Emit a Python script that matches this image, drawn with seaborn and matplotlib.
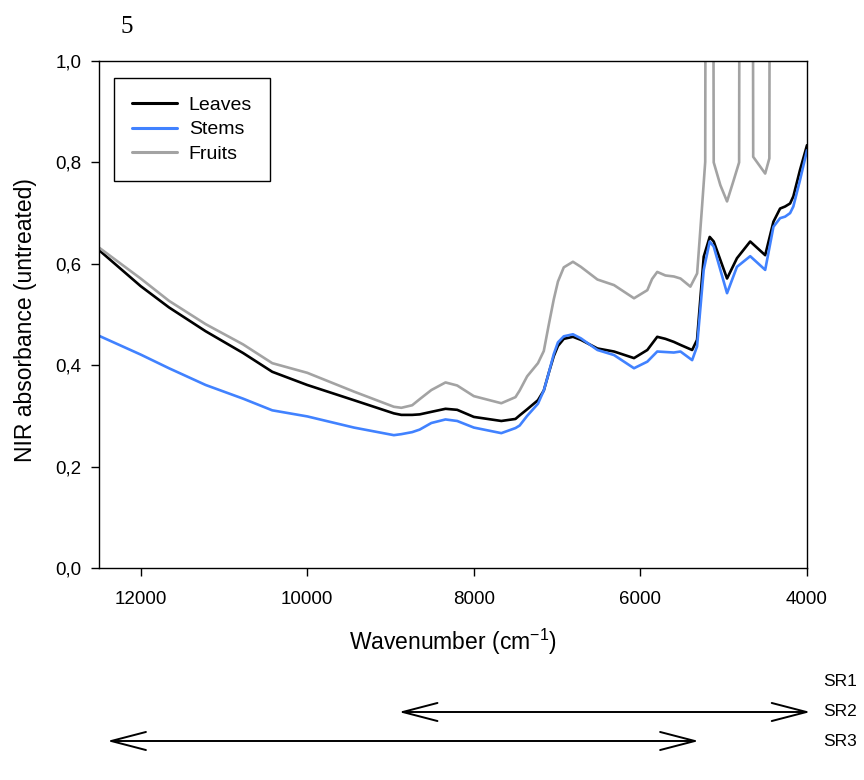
import numpy as np
import pandas as pd
import matplotlib
matplotlib.use("Agg")
import matplotlib.pyplot as plt
import seaborn as sns

# ---------------- data ----------------
wavenumber = [12500, 12000, 11660, 11220, 10770, 10420, 10000, 9440, 8960, 8870,
              8740, 8650, 8510, 8340, 8200, 8000, 7670, 7500, 7450, 7360,
              7230, 7160, 7100, 7040, 6990, 6920, 6810, 6715, 6516, 6317,
              6077, 5917, 5798, 5700, 5599, 5519, 5379, 5320, 5240, 5168,
              5120, 4960, 4841, 4682, 4502, 4403, 4323, 4263, 4203, 4164,
              4084, 4000]
leaves = [0.627, 0.556, 0.514, 0.467, 0.424, 0.387, 0.361, 0.331, 0.305, 0.302,
          0.302, 0.303, 0.308, 0.314, 0.312, 0.298, 0.290, 0.294, 0.301, 0.313,
          0.331, 0.350, 0.385, 0.418, 0.438, 0.452, 0.456, 0.450, 0.433, 0.427,
          0.414, 0.430, 0.456, 0.452, 0.446, 0.440, 0.430, 0.450, 0.614, 0.653,
          0.644, 0.571, 0.611, 0.644, 0.617, 0.683, 0.709, 0.713, 0.719, 0.733,
          0.785, 0.834]
stems = [0.458, 0.421, 0.394, 0.361, 0.334, 0.311, 0.299, 0.277, 0.262, 0.264,
         0.268, 0.273, 0.286, 0.293, 0.290, 0.277, 0.266, 0.276, 0.281, 0.300,
         0.324, 0.350, 0.385, 0.422, 0.445, 0.457, 0.461, 0.453, 0.430, 0.420,
         0.394, 0.407, 0.427, 0.426, 0.425, 0.427, 0.410, 0.437, 0.588, 0.644,
         0.634, 0.542, 0.594, 0.615, 0.588, 0.673, 0.690, 0.693, 0.700, 0.713,
         0.765, 0.824]
wavenumber_fruits = [12500, 12000, 11660, 11220, 10770, 10420, 10000, 9440, 8960, 8870,
                     8740, 8650, 8510, 8340, 8200, 8000, 7670, 7500, 7450, 7360,
                     7230, 7160, 7100, 7040, 6990, 6920, 6810, 6715, 6516, 6317,
                     6077, 5917, 5860, 5798, 5700, 5599, 5519, 5400, 5319, 5260,
                     5222, 5215, 5128, 5120, 5040, 4960, 4880, 4815, 4808, 4652,
                     4646, 4502, 4452, 4445, 4000]
fruits = [0.632, 0.571, 0.527, 0.481, 0.441, 0.404, 0.385, 0.348, 0.318, 0.316,
          0.321, 0.333, 0.351, 0.366, 0.360, 0.339, 0.325, 0.337, 0.350, 0.378,
          0.404, 0.428, 0.480, 0.530, 0.565, 0.593, 0.604, 0.594, 0.569, 0.558,
          0.532, 0.548, 0.570, 0.584, 0.577, 0.575, 0.571, 0.555, 0.581, 0.713,
          0.801, 1.500, 1.500, 0.800, 0.755, 0.723, 0.765, 0.800, 1.500, 1.500,
          0.811, 0.778, 0.808, 1.500, 1.500]

series_names = ["Leaves", "Stems", "Fruits"]
series_colors = ["#000000", "#4182ff", "#a3a3a3"]

x_ticks = [12000, 10000, 8000, 6000, 4000]
y_ticks = [0.0, 0.2, 0.4, 0.6, 0.8, 1.0]
y_tick_labels = ["0,0", "0,2", "0,4", "0,6", "0,8", "1,0"]

sr_labels = ["SR1", "SR2", "SR3"]
sr_ranges = [None, (8900, 3960), (12400, 5300)]

# ---------------- build long-form table ----------------
df = pd.concat([
    pd.DataFrame({"wn": wavenumber, "abs": leaves, "part": "Leaves"}),
    pd.DataFrame({"wn": wavenumber, "abs": stems, "part": "Stems"}),
    pd.DataFrame({"wn": wavenumber_fruits, "abs": fruits, "part": "Fruits"}),
], ignore_index=True)

sns.set_theme(style="ticks")
plt.rcParams["font.family"] = ["Liberation Sans", "DejaVu Sans"]
plt.rcParams["mathtext.fontset"] = "custom"
plt.rcParams["mathtext.rm"] = "Liberation Sans"
plt.rcParams["text.color"] = "black"
plt.rcParams["axes.labelcolor"] = "black"
plt.rcParams["xtick.color"] = "black"
plt.rcParams["ytick.color"] = "black"

W, H = 864, 780
fig = plt.figure(figsize=(W / 100, H / 100), dpi=100)
L, R, T, B = 99, 807, 61, 568
ax = fig.add_axes([L / W, 1 - B / H, (R - L) / W, (B - T) / H])

sns.lineplot(data=df, x="wn", y="abs", hue="part", hue_order=series_names,
             palette=dict(zip(series_names, series_colors)), estimator=None,
             sort=False, linewidth=1.9, legend=False, ax=ax)

ax.set_xlim(12500, 4000)
ax.set_ylim(0, 1.0)
ax.set_xticks(x_ticks)
ax.set_xticklabels([str(t) for t in x_ticks])
ax.set_yticks(y_ticks)
ax.set_yticklabels(y_tick_labels)
ax.tick_params(axis="both", direction="out", length=5.5, width=1.0,
               labelsize=13.5, colors="black")
ax.tick_params(axis="x", pad=11)
ax.tick_params(axis="y", pad=7)
for s in ax.spines.values():
    s.set_visible(True)
    s.set_linewidth(1.0)
    s.set_color("black")

ax.set_xlabel("Wavenumber (cm$^{\\mathregular{-1}}$)", fontsize=16.5, color="black")
ax.set_ylabel("NIR absorbance (untreated)", fontsize=16.5, color="black")
ax.xaxis.set_label_coords(0.5, (568 - 627) / 507)
ax.yaxis.set_label_coords((37 - 99) / 708, 0.49)

handles = ax.get_lines()[:3]
leg = ax.legend(handles, series_names, loc="upper left",
                bbox_to_anchor=((114 - 99) / 708, (568 - 78) / 507),
                borderaxespad=0, fontsize=14, handlelength=2.27,
                handletextpad=0.62, labelspacing=0.35, borderpad=0.95,
                fancybox=False, frameon=True, edgecolor="black", framealpha=1)
leg.get_frame().set_linewidth(1.0)
for line in leg.get_lines():
    line.set_linewidth(2.2)
for t in leg.get_texts():
    t.set_color("black")

# "5" panel label
fig.text(127 / W, 1 - 27 / H, "5", family=["Liberation Serif", "DejaVu Serif"],
         fontsize=18, ha="center", va="center", color="black")

# spectral-region arrows and labels
sr_y = [682, 712, 741]
for lab, rng, yp in zip(sr_labels, sr_ranges, sr_y):
    fig.text(823 / W, 1 - yp / H, lab, fontsize=12.5, ha="left", va="center",
             color="black")
    if rng is not None:
        ax.annotate("", xy=(rng[1], H - yp), xytext=(rng[0], H - yp),
                    xycoords=("data", "figure pixels"),
                    textcoords=("data", "figure pixels"),
                    annotation_clip=False,
                    arrowprops=dict(arrowstyle="<->,head_length=25,head_width=6.5",
                                    mutation_scale=1, lw=1.4, color="black",
                                    shrinkA=0, shrinkB=0))

fig.savefig("out.png", dpi=100)
